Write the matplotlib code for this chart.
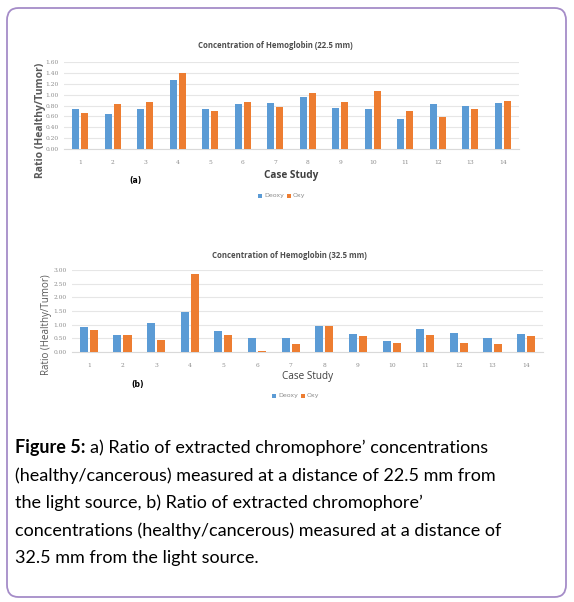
import matplotlib
matplotlib.use("Agg")
import matplotlib.pyplot as plt
from matplotlib.patches import FancyBboxPatch, Rectangle
import numpy as np

cases = [str(i) for i in range(1, 15)]
deoxy_a = [0.74, 0.65, 0.73, 1.27, 0.74, 0.82, 0.84, 0.95, 0.76, 0.73, 0.55, 0.83, 0.79, 0.85]
oxy_a = [0.67, 0.83, 0.87, 1.40, 0.70, 0.87, 0.77, 1.03, 0.86, 1.06, 0.70, 0.59, 0.74, 0.88]
deoxy_b = [0.90, 0.64, 1.05, 1.47, 0.77, 0.51, 0.51, 0.95, 0.67, 0.39, 0.83, 0.69, 0.53, 0.66]
oxy_b = [0.79, 0.63, 0.45, 2.87, 0.64, 0.05, 0.28, 0.95, 0.60, 0.33, 0.63, 0.34, 0.28, 0.59]
yticks_a = [0.0, 0.2, 0.4, 0.6, 0.8, 1.0, 1.2, 1.4, 1.6]
yticks_b = [0.0, 0.5, 1.0, 1.5, 2.0, 2.5, 3.0]

BLUE = "#5B9BD5"
ORANGE = "#ED7D31"
W, H = 574, 602
fig = plt.figure(figsize=(W / 100, H / 100), dpi=100)
fig.patch.set_facecolor("white")

def px_axes(x0, y0, x1, y1):
    return fig.add_axes([x0 / W, 1 - y1 / H, (x1 - x0) / W, (y1 - y0) / H])

def fx(x):
    return x / W

def fy(y):
    return 1 - y / H

# rounded frame
frame = FancyBboxPatch((fx(7), fy(597)), fx(566) - fx(7), fy(8) - fy(597),
                       boxstyle="round,pad=0,rounding_size=0.02",
                       transform=fig.transFigure, facecolor="none",
                       edgecolor="#a58cc8", linewidth=1.3)
fig.patches.append(frame)

def draw_chart(box, deoxy, oxy, yticks, ymax, fmt, width, off):
    ax = px_axes(*box)
    x = np.arange(1, len(cases) + 1)
    ax.bar(x - off, deoxy, width, color=BLUE, zorder=3)
    ax.bar(x + off, oxy, width, color=ORANGE, zorder=3)
    ax.set_xlim(0.5, len(cases) + 0.5)
    ax.set_ylim(0, ymax)
    ax.set_yticks(yticks)
    ax.set_yticklabels([fmt.format(v) for v in yticks])
    ax.set_xticks(x)
    ax.set_xticklabels(cases)
    ax.grid(axis="y", color="#e6e6e6", linewidth=0.8, zorder=0)
    for s in ax.spines.values():
        s.set_visible(False)
    ax.spines["bottom"].set_visible(True)
    ax.spines["bottom"].set_color("#d9d9d9")
    ax.tick_params(length=0, labelsize=4.3, colors="#8c8c8c", pad=4)
    ax.tick_params(axis="x", pad=8)
    for t in ax.get_xticklabels() + ax.get_yticklabels():
        t.set_family("DejaVu Serif")
    return ax

ax1 = draw_chart((64, 62, 519, 149), deoxy_a, oxy_a, yticks_a, 1.6, "{:.2f}", 0.22, 0.14)
ax2 = draw_chart((72, 270, 543, 352), deoxy_b, oxy_b, yticks_b, 3.0, "{:.2f}", 0.24, 0.15)

title_kw = dict(fontsize=5.6, color="#4d4d4d", fontweight="bold", family="Open Sans",
                ha="center", va="center")
fig.text(fx(275), fy(46), "Concentration of Hemoglobin (22.5 mm)", **title_kw)
fig.text(fx(289), fy(255), "Concentration of Hemoglobin (32.5 mm)", **title_kw)

fig.text(fx(40), fy(120), "Ratio (Healthy/Tumor)", rotation=90, fontsize=7.5,
         fontweight="bold", color="#595959", family="Open Sans", ha="center", va="center")
fig.text(fx(47), fy(325), "Ratio (Healthy/Tumor)", rotation=90, fontsize=7,
         color="#595959", family="Open Sans", ha="center", va="center")

fig.text(fx(291), fy(175), "Case Study", fontsize=7.2, fontweight="bold", color="#404040",
         family="Open Sans", ha="center", va="center")
fig.text(fx(308), fy(376), "Case Study", fontsize=7.2, color="#404040",
         family="Open Sans", ha="center", va="center")

fig.text(fx(136), fy(180), "(a)", fontsize=5.5, fontweight="bold", color="black",
         family="DejaVu Sans", ha="center", va="center")
fig.text(fx(138), fy(384), "(b)", fontsize=5.5, fontweight="bold", color="black",
         family="DejaVu Sans", ha="center", va="center")

def legend(x, y):
    s = 4
    fig.patches.append(Rectangle((fx(x), fy(y + s / 2)), s / W, s / H, transform=fig.transFigure,
                                 facecolor=BLUE, edgecolor="none"))
    fig.text(fx(x + 6), fy(y), "Deoxy", fontsize=4.5, color="#8c8c8c", va="center", ha="left")
    fig.patches.append(Rectangle((fx(x + 29), fy(y + s / 2)), s / W, s / H, transform=fig.transFigure,
                                 facecolor=ORANGE, edgecolor="none"))
    fig.text(fx(x + 35), fy(y), "Oxy", fontsize=4.5, color="#8c8c8c", va="center", ha="left")

legend(258, 196)
legend(272, 396)

# caption
cap_font = "Lato"
cap_size = 13.0
lines = [
    "a) Ratio of extracted chromophore\u2019 concentrations",
    "(healthy/cancerous) measured at a distance of 22.5 mm from",
    "the light source, b) Ratio of extracted chromophore\u2019",
    "concentrations (healthy/cancerous) measured at a distance of",
    "32.5 mm from the light source.",
]
ys = [448, 476, 503, 531, 558]
t0 = fig.text(fx(15), fy(ys[0]), "Figure 5:", fontsize=cap_size, fontweight="bold",
              family=cap_font, va="center", ha="left", color="black")
fig.canvas.draw()
bb = t0.get_window_extent()
fig.text(bb.x1 / W + 4 / W, fy(ys[0]), lines[0], fontsize=cap_size, family=cap_font,
         va="center", ha="left", color="black")
for ln, y in zip(lines[1:], ys[1:]):
    fig.text(fx(15), fy(y), ln, fontsize=cap_size, family=cap_font, va="center", ha="left",
             color="black")

fig.savefig("out.png", dpi=100, facecolor="white")
